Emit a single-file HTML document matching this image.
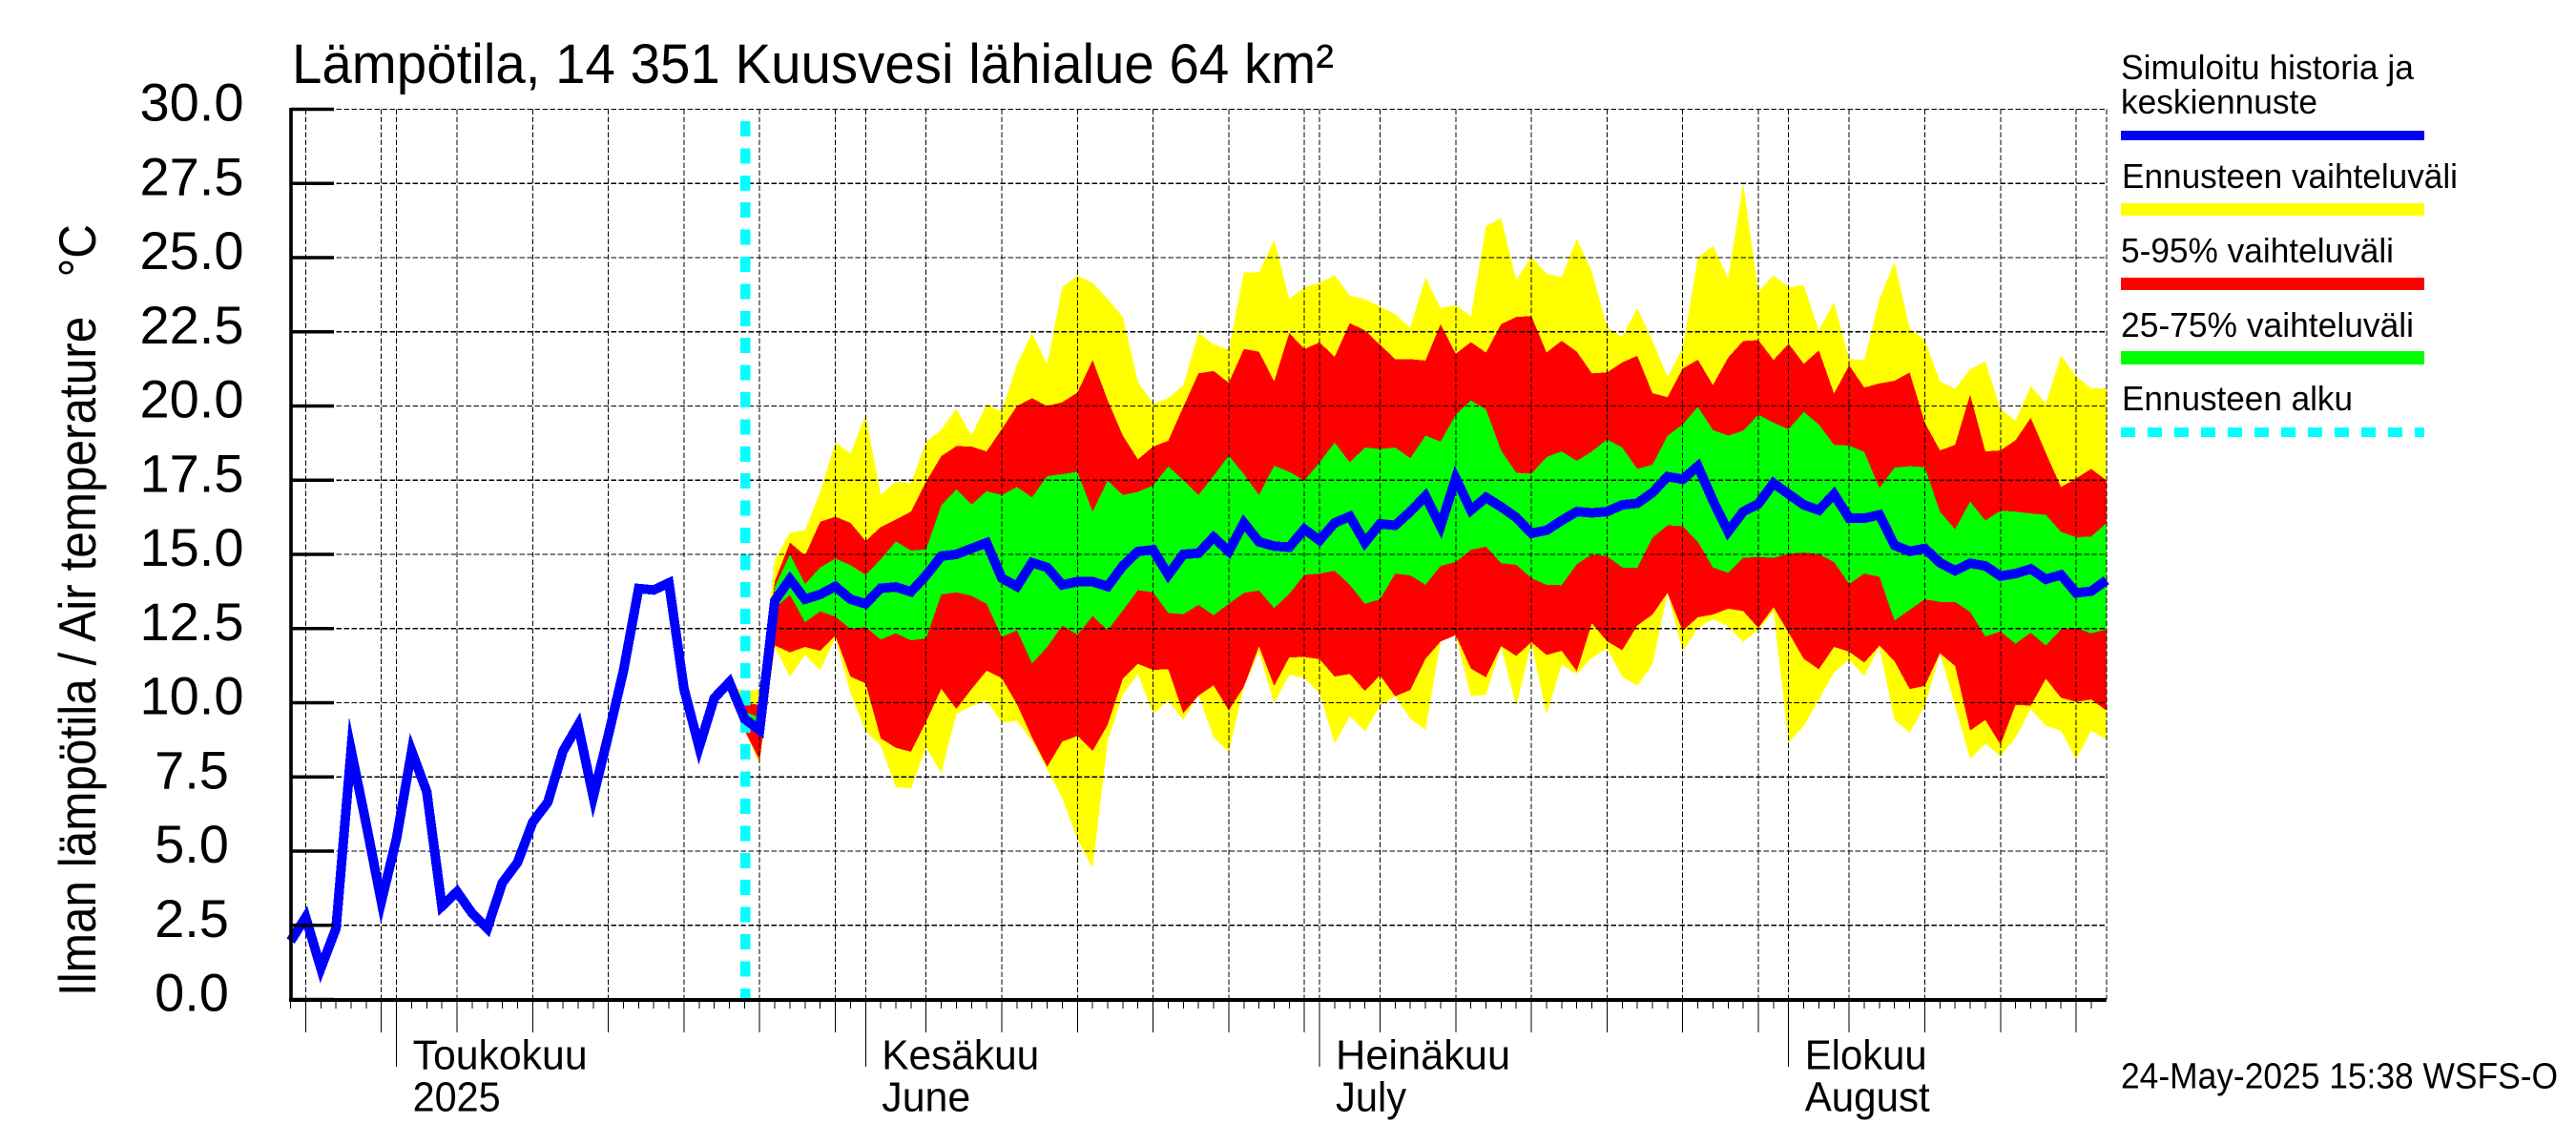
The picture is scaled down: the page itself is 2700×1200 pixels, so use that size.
<!DOCTYPE html>
<html lang="fi">
<head>
<meta charset="utf-8">
<title>Lämpötila, 14 351 Kuusvesi lähialue 64 km²</title>
<style>
html,body{margin:0;padding:0;background:#fff;}
svg{display:block;}
text{font-family:"Liberation Sans",Arial,sans-serif;fill:#000;white-space:pre;}
</style>
</head>
<body>
<svg id="chart" xmlns="http://www.w3.org/2000/svg" width="2700" height="1200" viewBox="0 0 2700 1200">
  <rect x="0" y="0" width="2700" height="1200" fill="#ffffff"/>
  <g id="bands"></g>
  <g id="grid"></g>
  <line x1="781" y1="127" x2="781" y2="1046" stroke="#00ffff" stroke-width="10.5" stroke-dasharray="16 12.4" shape-rendering="crispEdges"/>
  <g id="series"></g>
  <g id="axes"></g>

  <text x="306" y="87" font-size="58" textLength="1092" lengthAdjust="spacingAndGlyphs">Lämpötila, 14 351 Kuusvesi lähialue 64 km²</text>
  <text transform="translate(100,1044) rotate(-90)" font-size="55" textLength="809" lengthAdjust="spacingAndGlyphs">Ilman lämpötila / Air temperature   °C</text>

  <g>
    <text x="2223" y="83" font-size="36" textLength="307" lengthAdjust="spacingAndGlyphs">Simuloitu historia ja</text>
    <text x="2223" y="119" font-size="36" textLength="206" lengthAdjust="spacingAndGlyphs">keskiennuste</text>
    <rect x="2223" y="137" width="318" height="10" fill="#0000ff"/>
    <text x="2224" y="197" font-size="36" textLength="352" lengthAdjust="spacingAndGlyphs">Ennusteen vaihteluväli</text>
    <rect x="2223" y="213" width="318" height="13" fill="#ffff00"/>
    <text x="2223" y="275" font-size="36" textLength="286" lengthAdjust="spacingAndGlyphs">5-95% vaihteluväli</text>
    <rect x="2223" y="291" width="318" height="13" fill="#ff0000"/>
    <text x="2223" y="353" font-size="36" textLength="307" lengthAdjust="spacingAndGlyphs">25-75% vaihteluväli</text>
    <rect x="2223" y="368" width="318" height="14" fill="#00ff00"/>
    <text x="2224" y="430" font-size="36" textLength="242" lengthAdjust="spacingAndGlyphs">Ennusteen alku</text>
    <line x1="2223" y1="453" x2="2541" y2="453" stroke="#00ffff" stroke-width="10" stroke-dasharray="15 13" shape-rendering="crispEdges"/>
  </g>

  <text x="2223" y="1140.5" font-size="38" textLength="458" lengthAdjust="spacingAndGlyphs">24-May-2025 15:38 WSFS-O</text>
</svg>

<script>
// ---- axis data ----
const yTickValues = [0, 2.5, 5, 7.5, 10, 12.5, 15, 17.5, 20, 22.5, 25, 27.5, 30];
const yTickLabels = ["0.0", "2.5", "5.0", "7.5", "10.0", "12.5", "15.0", "17.5", "20.0", "22.5", "25.0", "27.5", "30.0"];
// day numbers counted from 1 May 2025
const firstDay = -7;
const lastDay = 113;
const bandFirstDay = 22;
const monthStartDays = [0, 31, 61, 92];
const fiveDayMarks = [-6, -1, 4, 9, 14, 19, 24, 29, 35, 40, 45, 50, 55, 60, 65, 70, 75, 80, 85, 90, 96, 101, 106, 111];
const monthNamesFi = ["Toukokuu", "Kesäkuu", "Heinäkuu", "Elokuu"];
const monthNamesEn = ["2025", "June", "July", "August"];

// ---- series data (degrees C, one value per day) ----
const simulated = [
  1.97, 2.77, 1.05, 2.4, 8.4, 5.9, 3.3,
  5.42, 8.37, 7.0, 3.14, 3.63, 2.9, 2.4, 3.94, 4.62, 5.97,
  6.65, 8.37, 9.24, 6.83, 8.9, 11.08, 13.85, 13.8, 14.04, 10.47,
  8.5, 10.16, 10.69, 9.46, 9.08, 13.44, 14.16, 13.49, 13.65, 13.92,
  13.49, 13.33, 13.86, 13.9, 13.74, 14.29, 14.94, 15.0, 15.2, 15.39,
  14.2, 13.92, 14.72, 14.56, 13.97, 14.08, 14.08, 13.92, 14.61, 15.1,
  15.15, 14.31, 15.0, 15.04, 15.58, 15.1, 16.06, 15.42, 15.28, 15.24,
  15.85, 15.47, 16.06, 16.28, 15.4, 16.03, 15.98, 16.44, 16.97, 15.95,
  17.56, 16.49, 16.92, 16.6, 16.24, 15.71, 15.81, 16.14, 16.44, 16.4,
  16.44, 16.67, 16.72, 17.08, 17.62, 17.53, 17.97, 16.81, 15.77, 16.44,
  16.7, 17.4, 17.03, 16.67, 16.49, 17.03, 16.22, 16.22, 16.33, 15.31,
  15.1, 15.2, 14.72, 14.45, 14.7, 14.61, 14.27, 14.35, 14.51, 14.16,
  14.31, 13.7, 13.76, 14.13
];
const rangeMax = [
  10.6, 10.37, 10.46, 14.8, 15.74, 15.8, 17.1, 18.77, 18.4, 19.7,
  17.0, 17.45, 17.4, 18.8, 19.2, 19.9, 19.0, 20.06, 19.8, 21.4,
  22.47, 21.4, 24.0, 24.4, 24.15, 23.6, 23.0, 20.8, 20.08, 20.26,
  20.7, 22.47, 22.08, 21.9, 24.5, 24.5, 25.6, 23.6, 24.0, 24.15,
  24.4, 23.72, 23.6, 23.35, 23.1, 22.63, 24.33, 23.3, 23.4, 23.03,
  26.06, 26.33, 24.24, 25.03, 24.45, 24.35, 25.63, 24.53, 22.65, 22.33,
  23.3, 22.2, 20.97, 21.96, 25.0, 25.4, 24.3, 27.5, 23.85, 24.4,
  24.0, 24.07, 22.55, 23.5, 21.58, 21.54, 23.6, 24.85, 22.62, 22.22,
  20.83, 20.58, 21.24, 21.5, 19.9, 19.5, 20.67, 20.08, 21.7, 21.0,
  20.6, 20.6
];
const p95 = [
  10.6, 9.99, 9.93, 14.1, 15.4, 14.96, 16.1, 16.27, 16.06, 15.45,
  15.92, 16.17, 16.44, 17.45, 18.31, 18.65, 18.63, 18.47, 19.22, 20.0,
  20.26, 20.0, 20.13, 20.45, 21.55, 20.19, 19.0, 18.2, 18.63, 18.83,
  19.97, 21.1, 21.18, 20.78, 21.92, 21.83, 20.83, 22.46, 21.92, 22.14,
  21.66, 22.79, 22.55, 22.06, 21.58, 21.58, 21.53, 22.76, 21.76, 22.15,
  21.8, 22.76, 23.0, 23.03, 21.8, 22.2, 21.83, 21.1, 21.13, 21.47,
  21.69, 20.43, 20.3, 21.26, 21.56, 20.7, 21.63, 22.19, 22.22, 21.55,
  22.1, 21.42, 21.87, 20.42, 21.37, 20.62, 20.76, 20.85, 21.13, 19.44,
  18.5, 18.69, 20.38, 18.47, 18.5, 18.85, 19.6, 18.42, 17.27, 17.56,
  17.88, 17.5
];
const p75 = [
  10.6, 9.7, 9.5, 13.9, 15.0, 14.0, 14.56, 14.86, 14.64, 14.31,
  14.83, 15.44, 15.13, 15.17, 16.65, 17.19, 16.68, 17.13, 17.0, 17.27,
  16.92, 17.64, 17.7, 17.78, 16.44, 17.49, 17.0, 17.11, 17.32, 17.96,
  17.5, 17.0, 17.65, 18.33, 17.7, 17.0, 17.99, 17.78, 17.49, 18.1,
  18.77, 18.1, 18.6, 18.55, 18.6, 18.24, 19.0, 18.8, 19.7, 20.19,
  19.89, 18.5, 17.75, 17.72, 18.28, 18.47, 18.15, 18.47, 18.87, 18.6,
  17.88, 18.02, 19.0, 19.38, 19.97, 19.19, 19.0, 19.17, 19.7, 19.44,
  19.22, 19.8, 19.38, 18.69, 18.67, 18.45, 17.24, 17.92, 17.97, 17.94,
  16.44, 15.85, 16.78, 16.14, 16.47, 16.44, 16.38, 16.33, 15.76, 15.58,
  15.6, 16.05
];
const p25 = [
  10.6, 9.3, 9.0, 13.2, 13.63, 12.71, 13.08, 12.9, 12.49, 12.55,
  12.13, 12.34, 12.1, 12.17, 13.65, 13.72, 13.6, 13.33, 12.22, 12.44,
  11.32, 11.88, 12.6, 12.29, 12.92, 12.44, 13.11, 13.79, 13.72, 13.03,
  12.98, 13.3, 12.95, 13.33, 13.7, 13.78, 13.19, 13.67, 14.31, 14.35,
  14.45, 13.97, 13.33, 13.49, 14.35, 14.29, 13.97, 14.61, 14.74, 15.15,
  15.26, 14.7, 14.65, 14.2, 13.97, 13.96, 14.67, 15.0, 14.94, 14.56,
  14.54, 15.56, 15.98, 15.95, 15.42, 14.56, 14.38, 14.88, 14.91, 14.88,
  15.02, 15.06, 15.01, 14.74, 14.0, 14.35, 14.24, 12.77, 13.13, 13.49,
  13.4, 13.4, 13.06, 12.23, 12.4, 11.99, 12.36, 11.93, 12.47, 12.52,
  12.34, 12.47
];
const p5 = [
  10.6, 9.08, 8.06, 11.93, 11.7, 11.88, 11.75, 12.26, 10.88, 10.65,
  8.8, 8.48, 8.35, 9.36, 10.47, 9.79, 10.46, 11.08, 10.83, 9.95,
  8.83, 7.84, 8.69, 8.88, 8.37, 9.26, 10.81, 11.31, 11.11, 11.13,
  9.65, 10.24, 10.59, 9.74, 10.54, 11.9, 10.57, 11.53, 11.54, 11.47,
  10.88, 10.97, 10.4, 10.92, 10.22, 10.43, 11.48, 12.06, 12.28, 11.15,
  10.86, 11.91, 11.58, 12.04, 11.61, 11.75, 11.06, 12.68, 12.07, 11.77,
  12.6, 12.97, 13.7, 12.42, 12.88, 12.97, 13.17, 13.09, 12.52, 13.22,
  12.36, 11.48, 11.13, 11.88, 11.72, 11.35, 11.93, 11.4, 10.46, 10.57,
  11.67, 11.24, 9.06, 9.42, 8.59, 9.93, 9.9, 10.81, 10.17, 10.03,
  10.11, 9.74
];
const rangeMin = [
  10.6, 9.05, 7.95, 11.88, 10.88, 11.61, 11.1, 12.2, 10.33, 9.04,
  8.56, 7.15, 7.11, 8.5, 7.62, 9.63, 9.88, 10.08, 9.33, 9.39,
  8.72, 7.75, 6.79, 5.4, 4.43, 8.72, 10.27, 10.97, 9.63, 10.06,
  9.42, 10.27, 8.83, 8.34, 10.54, 11.72, 9.98, 10.94, 10.83, 10.33,
  8.63, 9.54, 9.04, 9.9, 10.22, 9.47, 9.09, 12.06, 12.26, 10.22,
  10.27, 11.88, 9.88, 12.02, 9.6, 11.29, 10.97, 11.51, 11.83, 10.88,
  10.57, 11.29, 13.7, 11.74, 12.52, 12.81, 12.58, 12.04, 12.47, 13.06,
  8.67, 9.22, 10.11, 11.02, 11.45, 10.9, 11.88, 9.42, 9.0, 9.9,
  11.67, 9.9, 8.11, 8.63, 8.2, 8.83, 9.79, 9.22, 9.06, 8.1,
  9.06, 8.77
];

// ---- scales ----
function xScale(day) { return 415.6 + 15.86 * day; }
function yScale(value) { return 1047.5 - 31.1 * value; }

const SVG_NS = "http://www.w3.org/2000/svg";
function make(tag, parentId) {
  const el = document.createElementNS(SVG_NS, tag);
  document.getElementById(parentId).appendChild(el);
  return el;
}
function bandPoints(upper, lower) {
  const pts = [];
  upper.forEach(function (v, i) { pts.push(xScale(bandFirstDay + i).toFixed(1) + "," + yScale(v).toFixed(1)); });
  for (let i = lower.length - 1; i >= 0; i--) { pts.push(xScale(bandFirstDay + i).toFixed(1) + "," + yScale(lower[i]).toFixed(1)); }
  return pts.join(" ");
}

// ---- bands ----
const rangeBand = make("polygon", "bands");


rangeBand.setAttribute("points", bandPoints(rangeMax, rangeMin));
rangeBand.setAttribute("fill", "#ffff00");
rangeBand.setAttribute("shape-rendering", "crispEdges");

const band595 = make("polygon", "bands");


band595.setAttribute("points", bandPoints(p95, p5));
band595.setAttribute("fill", "#ff0000");
band595.setAttribute("shape-rendering", "crispEdges");

const band2575 = make("polygon", "bands");


band2575.setAttribute("points", bandPoints(p75, p25));
band2575.setAttribute("fill", "#00ff00");
band2575.setAttribute("shape-rendering", "crispEdges");

// ---- grid ----
yTickValues.forEach(function (v) {
  const gl = make("line", "grid");
  
  
  gl.setAttribute("x1", xScale(firstDay));
  gl.setAttribute("x2", xScale(lastDay));
  gl.setAttribute("y1", yScale(v));
  gl.setAttribute("y2", yScale(v));
  gl.setAttribute("stroke", "#000");
  gl.setAttribute("stroke-width", "1.2");
  gl.setAttribute("stroke-dasharray", "5.3 2.7");
  gl.setAttribute("shape-rendering", "crispEdges");
});
fiveDayMarks.concat(monthStartDays, [lastDay]).forEach(function (d) {
  const gv = make("line", "grid");
  
  
  gv.setAttribute("x1", xScale(d));
  gv.setAttribute("x2", xScale(d));
  gv.setAttribute("y1", yScale(30));
  gv.setAttribute("y2", yScale(0));
  gv.setAttribute("stroke", "#000");
  gv.setAttribute("stroke-width", "1");
  gv.setAttribute("stroke-dasharray", "5.3 2.7");
  gv.setAttribute("shape-rendering", "crispEdges");
});

// ---- simulated line ----
const simLine = make("polyline", "series");


simLine.setAttribute("points", simulated.map(function (v, i) {
  return xScale(firstDay + i).toFixed(1) + "," + yScale(v).toFixed(1);
}).join(" "));
simLine.setAttribute("fill", "none");
simLine.setAttribute("stroke", "#0000ff");
simLine.setAttribute("stroke-width", "10");
simLine.setAttribute("stroke-linejoin", "miter");
simLine.setAttribute("stroke-miterlimit", "20");
simLine.setAttribute("shape-rendering", "crispEdges");

// ---- axes ----
const ySpine = make("line", "axes");


ySpine.setAttribute("x1", 305);
ySpine.setAttribute("x2", 305);
ySpine.setAttribute("y1", 113);
ySpine.setAttribute("y2", 1050);
ySpine.setAttribute("stroke", "#000");
ySpine.setAttribute("stroke-width", "3.6");

const xSpine = make("line", "axes");


xSpine.setAttribute("x1", 303);
xSpine.setAttribute("x2", xScale(lastDay));
xSpine.setAttribute("y1", 1048);
xSpine.setAttribute("y2", 1048);
xSpine.setAttribute("stroke", "#000");
xSpine.setAttribute("stroke-width", "4");

yTickValues.forEach(function (v, i) {
  const yt = make("line", "axes");
  
  
  yt.setAttribute("x1", 305);
  yt.setAttribute("x2", 350);
  yt.setAttribute("y1", yScale(v));
  yt.setAttribute("y2", yScale(v));
  yt.setAttribute("stroke", "#000");
  yt.setAttribute("stroke-width", "3.4");

  const yl = make("text", "axes");
  
  
  yl.setAttribute("x", 201);
  yl.setAttribute("y", yScale(v) + 12);
  yl.setAttribute("font-size", "56");
  yl.setAttribute("text-anchor", "middle");
  yl.textContent = yTickLabels[i];
});

for (let d = firstDay; d < lastDay; d++) {
  const isMonth = monthStartDays.indexOf(d) >= 0;
  const isFive = fiveDayMarks.indexOf(d) >= 0;
  const xt = make("line", "axes");
  
  
  xt.setAttribute("x1", xScale(d));
  xt.setAttribute("x2", xScale(d));
  xt.setAttribute("y1", 1050);
  xt.setAttribute("y2", isMonth ? 1118 : (isFive ? 1082 : 1057));
  xt.setAttribute("stroke", "#000");
  xt.setAttribute("stroke-width", "1");
  xt.setAttribute("shape-rendering", "crispEdges");
}

const monthWidthsFi = [183, 165, 183, 128];
const monthWidthsEn = [92, 93, 74, 131];
monthStartDays.forEach(function (d, i) {
  const mf = make("text", "axes");
  
  
  mf.setAttribute("x", xScale(d) + 17);
  mf.setAttribute("y", 1120.5);
  mf.setAttribute("font-size", "44");
  mf.setAttribute("textLength", monthWidthsFi[i]);
  mf.setAttribute("lengthAdjust", "spacingAndGlyphs");
  mf.textContent = monthNamesFi[i];

  const me = make("text", "axes");
  
  
  me.setAttribute("x", xScale(d) + 17);
  me.setAttribute("y", 1164.5);
  me.setAttribute("font-size", "44");
  me.setAttribute("textLength", monthWidthsEn[i]);
  me.setAttribute("lengthAdjust", "spacingAndGlyphs");
  me.textContent = monthNamesEn[i];
});
</script>
</body>
</html>
